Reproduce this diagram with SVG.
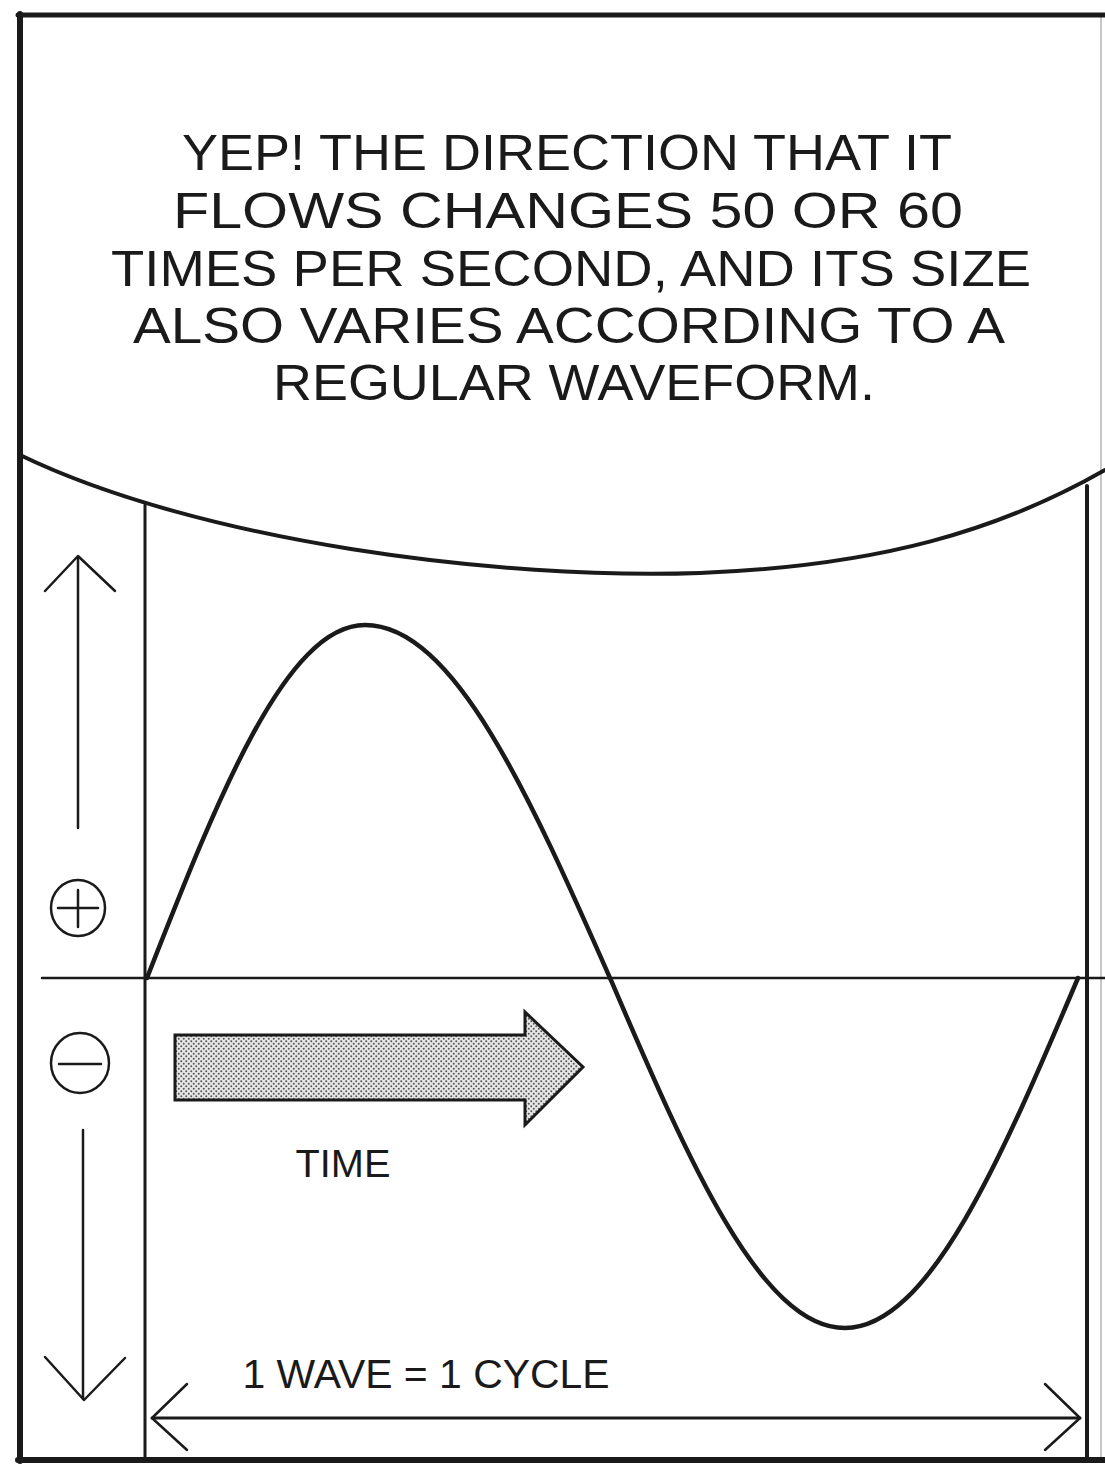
<svg xmlns="http://www.w3.org/2000/svg" width="1105" height="1470" viewBox="0 0 1105 1470">
  <style>
    .ln { fill: none; stroke: #1a1a1a; stroke-linecap: round; stroke-linejoin: round; }
    .txt { font-family: "Liberation Sans", "DejaVu Sans", sans-serif; fill: #1a1a1a; }
    .bub { font-size: 50px; text-anchor: middle; }
  </style>
  <defs>
    <pattern id="dots" width="5" height="5" patternUnits="userSpaceOnUse">
      <rect width="5" height="5" fill="#e6e6e6"/>
      <circle cx="1.25" cy="1.25" r="1" fill="#555555"/>
      <circle cx="3.75" cy="3.75" r="1" fill="#555555"/>
    </pattern>
  </defs>
  <rect width="1105" height="1470" fill="#ffffff"/>

  <g id="frame">
    <line class="ln" x1="1101" y1="16" x2="1101" y2="1458" style="stroke:#b5b5b5;stroke-width:1.5"/>
    <line class="ln" x1="18" y1="15" x2="1105" y2="15" style="stroke-width:5"/>
    <line class="ln" x1="20" y1="14" x2="20" y2="1461" style="stroke-width:6"/>
    <line class="ln" x1="18" y1="1460" x2="1105" y2="1460" style="stroke-width:6"/>
  </g>

  <g id="speech-bubble">
    <path class="ln" d="M 20 455 C 200 542, 500 580, 700 573 C 880 566, 1000 530, 1105 470" style="stroke-width:4"/>
    <text class="txt bub" x="567" y="170" textLength="770" lengthAdjust="spacingAndGlyphs">YEP! THE DIRECTION THAT IT</text>
    <text class="txt bub" x="568" y="228" textLength="790" lengthAdjust="spacingAndGlyphs">FLOWS CHANGES 50 OR 60</text>
    <text class="txt bub" x="571" y="286" textLength="920" lengthAdjust="spacingAndGlyphs">TIMES PER SECOND, AND ITS SIZE</text>
    <text class="txt bub" x="569" y="343" textLength="872" lengthAdjust="spacingAndGlyphs">ALSO VARIES ACCORDING TO A</text>
    <text class="txt bub" x="574" y="400" textLength="602" lengthAdjust="spacingAndGlyphs">REGULAR WAVEFORM.</text>
  </g>

  <g id="chart-borders">
    <line class="ln" x1="145" y1="505" x2="145" y2="1460" style="stroke-width:3"/>
    <line class="ln" x1="1087" y1="486" x2="1087" y2="1460" style="stroke-width:4"/>
    <line class="ln" x1="42" y1="978" x2="1105" y2="978" style="stroke-width:2.5"/>
  </g>

  <g id="sine-wave">
    <path class="ln" style="stroke-width:4.5" d="M 147 978 C 218 797, 286 625, 365 625 C 454 625, 530 797, 610 978 C 687 1157, 760 1328, 845 1328 C 929 1328, 1002 1157, 1078 978"/>
  </g>

  <g id="plus-sign">
    <ellipse class="ln" cx="78" cy="908" rx="27" ry="28" style="stroke-width:2.5"/>
    <line class="ln" x1="58" y1="908" x2="98" y2="908" style="stroke-width:2.5"/>
    <line class="ln" x1="78" y1="890" x2="78" y2="927" style="stroke-width:2.5"/>
  </g>

  <g id="minus-sign">
    <ellipse class="ln" cx="80" cy="1063" rx="29" ry="30" style="stroke-width:2.5"/>
    <line class="ln" x1="59" y1="1064" x2="101" y2="1064" style="stroke-width:2.5"/>
  </g>

  <g id="time-arrow">
    <path d="M 175 1035 L 525 1035 L 525 1012 L 583 1067 L 525 1125 L 525 1100 L 175 1100 Z" fill="url(#dots)" stroke="#1a1a1a" stroke-width="3" stroke-linejoin="miter"/>
    <text class="txt" x="343" y="1177" font-size="38" text-anchor="middle" textLength="95" lengthAdjust="spacingAndGlyphs">TIME</text>
  </g>

  <g id="connectors">
    <g id="up-arrow">
      <line class="ln" x1="78" y1="828" x2="78" y2="557" style="stroke-width:2.5"/>
      <polyline class="ln" points="45,591 78,556 115,591" style="stroke-width:2.5"/>
    </g>
    <g id="down-arrow">
      <line class="ln" x1="83" y1="1130" x2="83" y2="1399" style="stroke-width:2.5"/>
      <polyline class="ln" points="45,1357 84,1400 125,1358" style="stroke-width:2.5"/>
    </g>
    <g id="cycle-arrow">
      <line class="ln" x1="152" y1="1418" x2="1080" y2="1418" style="stroke-width:3"/>
      <polyline class="ln" points="187,1384 152,1418 187,1450" style="stroke-width:2.5"/>
      <polyline class="ln" points="1045,1384 1080,1418 1045,1450" style="stroke-width:2.5"/>
    </g>
  </g>

  <g id="cycle-label">
    <text class="txt" x="426" y="1388" font-size="40" text-anchor="middle" textLength="367" lengthAdjust="spacingAndGlyphs">1 WAVE = 1 CYCLE</text>
  </g>
</svg>
